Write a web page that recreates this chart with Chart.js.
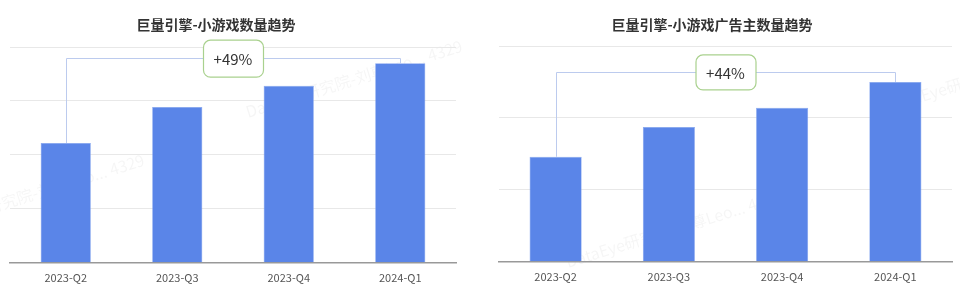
<!DOCTYPE html>
<html>
<head>
<meta charset="utf-8">
<script src="https://cdn.jsdelivr.net/npm/chart.js@4.4.1/dist/chart.umd.min.js"></script>
<style>
  html, body { margin: 0; padding: 0; background: #fff; }
  .row { display: flex; width: 960px; height: 301px; }
  .cell { position: relative; width: 480px; height: 301px; }
</style>
</head>
<body>
<div class="row">
  <div class="cell"><canvas id="chartGames"></canvas></div>
  <div class="cell"><canvas id="chartAdvertisers"></canvas></div>
</div>
<script>
// dados (escala relativa, sem rótulos no eixo y)
const quarters = ["2023-Q2", "2023-Q3", "2023-Q4", "2024-Q1"];
const gameCounts = [2.22, 2.89, 3.28, 3.70];
const advertiserCounts = [1.46, 1.875, 2.14, 2.5];
const titles = ["巨量引擎-小游戏数量趋势", "巨量引擎-小游戏广告主数量趋势"];
const growthLabels = ["+49%", "+44%"];
const watermark = "DataEye研究院-刘尊Leo... 4329";

const FONT = "'Noto Sans CJK SC', 'Noto Sans', sans-serif";

/**
 * Título, colchete de crescimento e marca d'água
 */
function decorPlugin(cfg) {
  return {
    id: "decor",
    beforeDraw(chart) {
      const c = chart.ctx;
      c.save();
      c.fillStyle = "rgba(0,0,0,0.04)";
      c.font = "16px " + FONT;
      cfg.marks.forEach(m => {
        c.save();
        c.translate(m[0], m[1]);
        c.rotate(-0.30);
        c.fillText(watermark, 0, 0);
        c.restore();
      });
      c.restore();
    },
    afterDatasetsDraw(chart) {
      const c = chart.ctx;
      const x = chart.scales.x, y = chart.scales.y;
      const data = chart.data.datasets[0].data;
      const n = data.length - 1;
      const x0 = x.getPixelForValue(0), x1 = x.getPixelForValue(n);
      const top0 = y.getPixelForValue(data[0]);
      const top1 = y.getPixelForValue(data[n]);
      const ly = Math.min.apply(null, data.map(v => y.getPixelForValue(v))) - cfg.lift;

      c.save();
      // titulo
      c.fillStyle = "#333";
      c.font = "bold 14px " + FONT;
      c.textAlign = "center";
      c.textBaseline = "middle";
      c.fillText(cfg.title, cfg.titleX, 25);

      // colchete
      c.strokeStyle = "#bccbee";
      c.lineWidth = 1;
      c.beginPath();
      c.moveTo(Math.round(x0) + 0.5, top0);
      c.lineTo(Math.round(x0) + 0.5, Math.round(ly) + 0.5);
      c.lineTo(Math.round(x1) + 0.5, Math.round(ly) + 0.5);
      c.lineTo(Math.round(x1) + 0.5, top1);
      c.stroke();

      // caixa
      const cx = (x0 + x1) / 2, w = 60, h = cfg.boxH;
      c.beginPath();
      c.roundRect(cx - w / 2 + 0.5, ly - h / 2 + 0.5, w, h, 7);
      c.fillStyle = "#fff";
      c.fill();
      c.strokeStyle = "#a9d18e";
      c.lineWidth = 1.2;
      c.stroke();
      c.fillStyle = "#333";
      c.font = "15px " + FONT;
      c.fillText(cfg.label, cx, ly + 1);
      c.restore();
    }
  };
}

function buildChart(id, values, max, pad, barPct, decor) {
  const ctx = document.getElementById(id).getContext("2d");
  return new Chart(ctx, {
    type: "bar",
    data: {
      labels: quarters,
      datasets: [{
        data: values,
        backgroundColor: "#5a85e8",
        borderColor: "#7fa0ee",
        borderWidth: 0.6,
        barPercentage: barPct,
        categoryPercentage: 1
      }]
    },
    options: {
      responsive: true,
      maintainAspectRatio: false,
      animation: false,
      layout: { padding: pad },
      plugins: { legend: { display: false }, tooltip: { enabled: false }, title: { display: false } },
      scales: {
        x: {
          grid: { display: false, drawTicks: false, tickLength: 0 },
          border: { display: true, color: "#999", width: 1.5 },
          ticks: { color: "#555", font: { family: FONT, size: 11 }, padding: 8 }
        },
        y: {
          min: 0, max: max,
          ticks: { display: false, stepSize: 1 },
          border: { display: false },
          grid: { color: "#e8e8e8", lineWidth: 1, drawTicks: false }
        }
      }
    },
    plugins: [decorPlugin(decor)]
  });
}

window.onload = () => {
  buildChart("chartGames", gameCounts, 4,
    { left: 10, right: 24, top: 47, bottom: 9 }, 0.45,
    { title: titles[0], titleX: 216, label: growthLabels[0], lift: 5, boxH: 37,
      marks: [[248, 118], [-70, 232]] });
  buildChart("chartAdvertisers", advertiserCounts, 3,
    { left: 19, right: 8, top: 46, bottom: 10 }, 0.46,
    { title: titles[1], titleX: 232, label: growthLabels[1], lift: 10, boxH: 35,
      marks: [[88, 268], [410, 112]] });
};
</script>
</body>
</html>
